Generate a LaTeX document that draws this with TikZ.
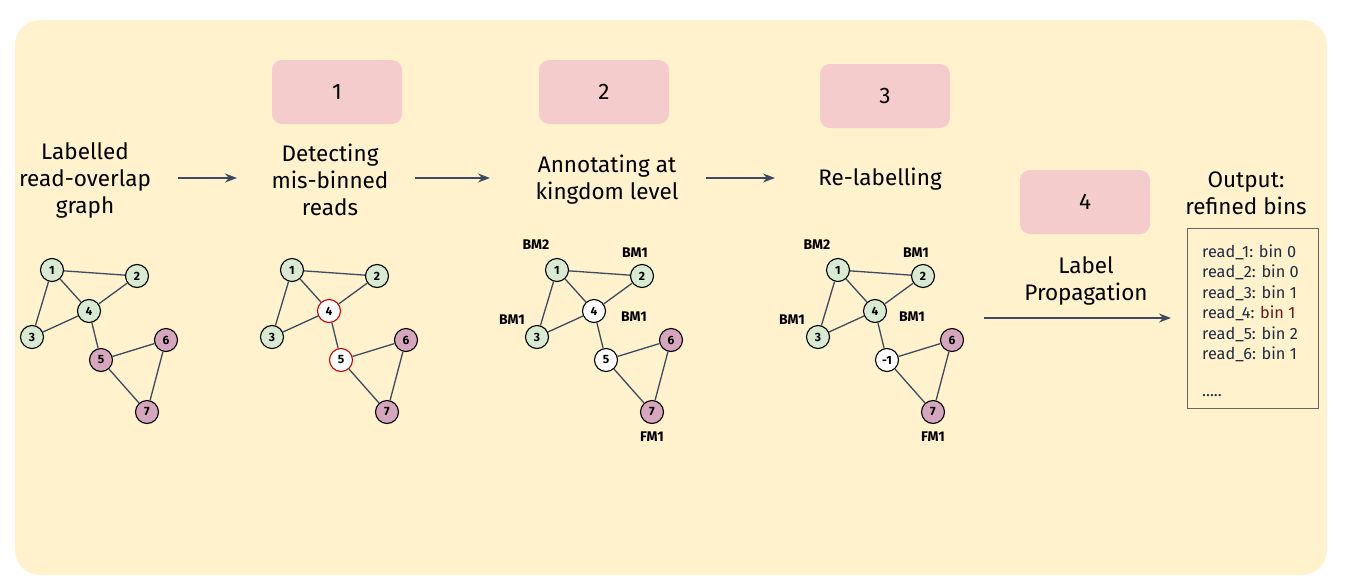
\documentclass[tikz,border=0pt]{standalone}
\usepackage{fontspec}
\setmainfont{Fira Sans}
\usetikzlibrary{arrows.meta}

\definecolor{panel}{HTML}{FFF2CC}
\definecolor{stepfill}{HTML}{F4CCCC}
\definecolor{bactread}{HTML}{D9EAD3}
\definecolor{fungread}{HTML}{D5A6BD}
\definecolor{slate}{HTML}{3C4A63}
\definecolor{flagred}{HTML}{CC0000}
\definecolor{binink}{HTML}{1F2A44}
\definecolor{binred}{HTML}{661A1A}

\begin{document}
\begin{tikzpicture}[x=1pt,y=-1pt,
  read node/.style={circle,draw,line width=1.1pt,fill=bactread,
    font=\bfseries\fontsize{12}{12}\selectfont,minimum size=23pt,inner sep=0pt},
  fung node/.style={read node,fill=fungread},
  flag node/.style={read node,fill=white,draw=flagred},
  open node/.style={read node,fill=white},
  tag/.style={font=\bfseries\fontsize{14}{14}\selectfont},
  title/.style={align=center,font=\fontsize{22.5}{27}\selectfont},
  stepbox/.style={rounded corners=10pt,fill=stepfill,minimum width=130pt,
    minimum height=64pt,font=\fontsize{22.5}{22.5}\selectfont},
  flow/.style={line width=1.4pt,draw=slate,-{Stealth[length=12pt,width=9pt]}},
  link/.style={line width=1.3pt,draw=slate}]

  \useasboundingbox (0,0) rectangle (1345,587);
  \fill[panel,rounded corners=25pt] (15,20) rectangle (1327,575);

  % step numbers
  \node[stepbox] (s1) at (337,92) {1};
  \node[stepbox] (s2) at (604,92) {2};
  \node[stepbox] (s3) at (885,96) {3};
  \node[stepbox] (s4) at (1085,202) {4};

  % stage titles
  \node[title] (t0) at (85,180) {Labelled\\read-overlap\\graph};
  \node[title] (t1) at (330,180) {Detecting\\mis-binned\\reads};
  \node[title] (t2) at (607,180) {Annotating at\\kingdom level};
  \node[title] (t3) at (880,179) {Re-labelling};
  \node[title] (t4) at (1086,281) {Label\\Propagation};
  \node[title] (t5) at (1246,193) {Output:\\refined bins};

  \coordinate (a0) at (178,178);  \coordinate (a1) at (237,178);
  \coordinate (b0) at (415,178);  \coordinate (b1) at (490,178);
  \coordinate (c0) at (706,178);  \coordinate (c1) at (775,178);
  \coordinate (d0) at (984,318);  \coordinate (d1) at (1171,318);
  \draw[flow] (a0) -- (a1);
  \draw[flow] (b0) -- (b1);
  \draw[flow] (c0) -- (c1);
  \draw[flow] (d0) -- (d1);

  % graph 0: labelled
  \begin{scope}[shift={(0,0)}]
  \node[read node] (p1) at (52,270) {1};
  \node[read node] (p2) at (137,276) {2};
  \node[read node] (p3) at (32,337) {3};
  \node[read node] (p4) at (89,311) {4};
  \node[fung node] (p5) at (101,360) {5};
  \node[fung node] (p6) at (166,340) {6};
  \node[fung node] (p7) at (147,412) {7};
  \path[link]
   (p1) edge (p2) (p1) edge (p3) (p1) edge (p4)
   (p2) edge (p4) (p3) edge (p4) (p4) edge (p5)
   (p5) edge (p6) (p5) edge (p7) (p6) edge (p7);
  \end{scope}

  % graph 1: detecting
  \begin{scope}[shift={(240,0)}]
  \node[read node] (q1) at (52,270) {1};
  \node[read node] (q2) at (137,276) {2};
  \node[read node] (q3) at (32,337) {3};
  \node[flag node] (q4) at (89,311) {4};
  \node[flag node] (q5) at (101,360) {5};
  \node[fung node] (q6) at (166,340) {6};
  \node[fung node] (q7) at (147,412) {7};
  \path[link]
   (q1) edge (q2) (q1) edge (q3) (q1) edge (q4)
   (q2) edge (q4) (q3) edge (q4) (q4) edge (q5)
   (q5) edge (q6) (q5) edge (q7) (q6) edge (q7);
  \end{scope}

  % graph 2: annotating
  \begin{scope}[shift={(505,0)}]
  \node[read node] (r1) at (52,270) {1};
  \node[read node] (r2) at (137,276) {2};
  \node[read node] (r3) at (32,337) {3};
  \node[open node] (r4) at (89,311) {4};
  \node[open node] (r5) at (101,360) {5};
  \node[fung node] (r6) at (166,340) {6};
  \node[fung node] (r7) at (147,412) {7};
  \path[link]
   (r1) edge (r2) (r1) edge (r3) (r1) edge (r4)
   (r2) edge (r4) (r3) edge (r4) (r4) edge (r5)
   (r5) edge (r6) (r5) edge (r7) (r6) edge (r7);
  \node[tag] (r1l) at (31,245) {BM2};
  \node[tag] (r2l) at (130,253) {BM1};
  \node[tag] (r3l) at (7,320) {BM1};
  \node[tag] (r4l) at (129,317) {BM1};
  \node[tag] (r7l) at (147,437) {FM1};
  \end{scope}

  % graph 3: re-labelling
  \begin{scope}[shift={(786,0)}]
  \node[read node] (u1) at (52,270) {1};
  \node[read node] (u2) at (137,276) {2};
  \node[read node] (u3) at (32,337) {3};
  \node[read node] (u4) at (89,311) {4};
  \node[open node] (u5) at (101,360) {-1};
  \node[fung node] (u6) at (166,340) {6};
  \node[fung node] (u7) at (147,412) {7};
  \path[link]
   (u1) edge (u2) (u1) edge (u3) (u1) edge (u4)
   (u2) edge (u4) (u3) edge (u4) (u4) edge (u5)
   (u5) edge (u6) (u5) edge (u7) (u6) edge (u7);
  \node[tag] (u1l) at (31,245) {BM2};
  \node[tag] (u2l) at (130,253) {BM1};
  \node[tag] (u3l) at (6,320) {BM1};
  \node[tag] (u4l) at (126,317) {BM1};
  \node[tag] (u7l) at (147,437) {FM1};
  \end{scope}

  % output bins
  \node[draw=black!60,line width=1pt,minimum width=131pt,minimum height=180pt] (out) at (1252.5,318) {};
  \begin{scope}[every node/.style={anchor=west,text=binink,inner sep=0pt,
      font=\fontsize{16.3}{16.3}\selectfont}]
  \node (o1) at (1202,252) {read\_1: bin 0};
  \node (o2) at (1202,272) {read\_2: bin 0};
  \node (o3) at (1202,293) {read\_3: bin 1};
  \node (o4) at (1202,313) {read\_4: \textcolor{binred}{bin 1}};
  \node (o5) at (1202,334) {read\_5: bin 2};
  \node (o6) at (1202,354) {read\_6: bin 1};
  \node (o7) at (1202,396) {.....};
  \end{scope}
\end{tikzpicture}
\end{document}
